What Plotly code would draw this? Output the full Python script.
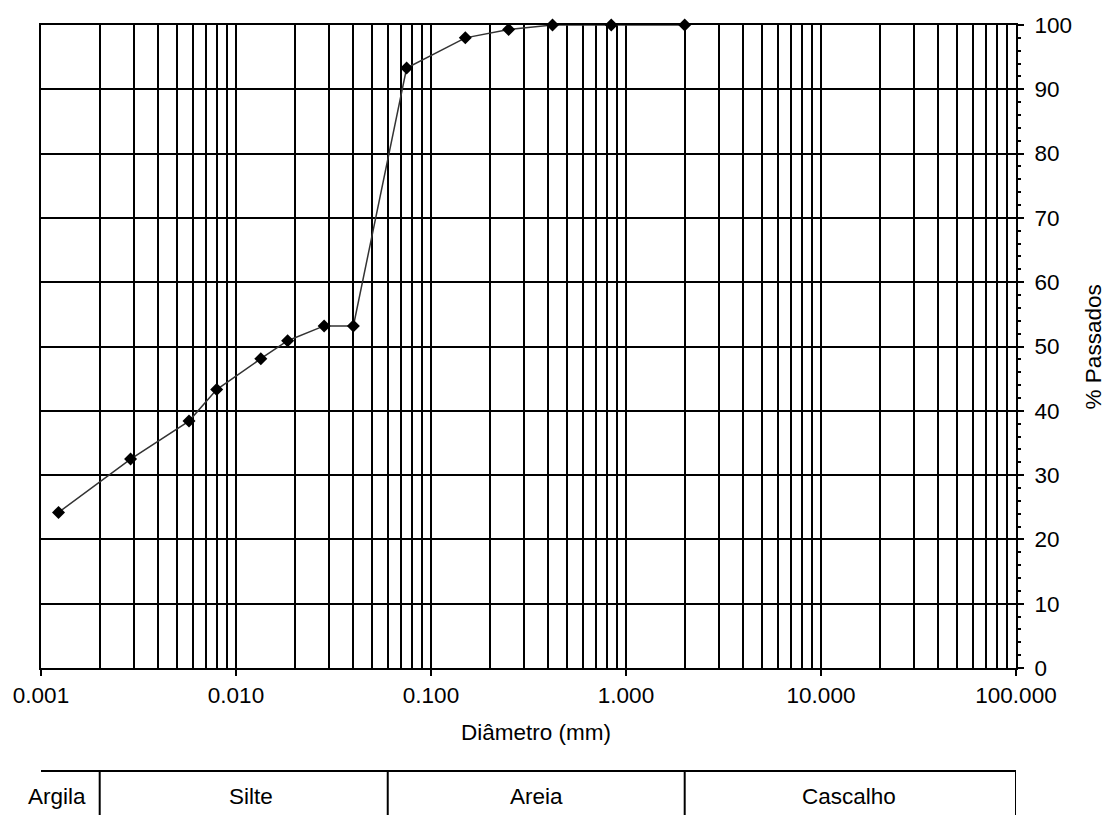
import plotly.graph_objects as go

# Data
diametro_mm = [0.00123, 0.00288, 0.00574, 0.00796, 0.0134, 0.0184, 0.0283, 0.0400,
               0.075, 0.15, 0.25, 0.42, 0.84, 2.0]
passados_pct = [24.2, 32.5, 38.4, 43.3, 48.1, 50.9, 53.2, 53.2,
                93.3, 98.0, 99.3, 100.0, 100.0, 100.0]

x_tickvals = [0.001, 0.01, 0.1, 1, 10, 100]
x_ticktext = ["0.001", "0.010", "0.100", "1.000", "10.000", "100.000"]
x_minor_vals = [m * d for d in [0.001, 0.01, 0.1, 1, 10] for m in range(2, 10)]

class_names = ["Argila", "Silte", "Areia", "Cascalho"]
class_bounds = [0.002, 0.06, 2.0, 100.0]
class_label_pos = [0.0169, 0.2154, 0.5082, 0.8292]

FONT = "Liberation Sans, Arial, sans-serif"
fs = 22.5
LW = 2

fig = go.Figure()
fig.add_trace(go.Scatter(
    x=diametro_mm, y=passados_pct, mode="lines+markers",
    line=dict(color="#333333", width=1.5),
    marker=dict(symbol="diamond", size=10, color="black"),
    showlegend=False, cliponaxis=False,
))

fig.update_layout(
    width=1108, height=815,
    margin=dict(l=41, r=92, t=25, b=147),
    paper_bgcolor="white", plot_bgcolor="white",
    font=dict(family=FONT, size=fs, color="black"),
    showlegend=False,
)

fig.update_xaxes(
    type="log", range=[-3, 2],
    tickvals=x_tickvals, ticktext=x_ticktext,
    ticks="outside", ticklen=6, tickwidth=LW, tickcolor="black",
    showgrid=True, gridcolor="black", gridwidth=LW,
    minor=dict(tickvals=x_minor_vals, showgrid=True, gridcolor="black",
               gridwidth=LW, ticks=""),
    showline=True, linecolor="black", linewidth=LW, mirror=True,
    zeroline=False, tickfont=dict(size=fs),
)
fig.update_yaxes(
    side="right", range=[0, 100], dtick=10,
    ticks="outside", ticklen=6, tickwidth=LW, tickcolor="black",
    showgrid=True, gridcolor="black", gridwidth=LW,
    minor=dict(dtick=2, ticks="outside", ticklen=3, tickwidth=1.5,
               tickcolor="black", showgrid=False),
    showline=True, linecolor="black", linewidth=LW, mirror=True,
    zeroline=False, tickfont=dict(size=fs), ticklabelstandoff=6,
)

# Axis titles
fig.add_annotation(text="Diâmetro (mm)", xref="paper", yref="paper",
                   x=0.5077, y=-0.1010, showarrow=False,
                   xanchor="center", yanchor="middle", font=dict(size=fs))
fig.add_annotation(text="% Passados", xref="paper", yref="paper",
                   x=1.0799, y=0.5, showarrow=False, textangle=-90,
                   xanchor="center", yanchor="middle", font=dict(size=fs))

# Classification table below the chart
y_top, y_bot = -0.1602, -0.24
fig.add_shape(type="line", xref="x", yref="paper", x0=0.001, x1=100,
              y0=y_top, y1=y_top, line=dict(color="black", width=LW))
for b in class_bounds:
    fig.add_shape(type="line", xref="x", yref="paper", x0=b, x1=b,
                  y0=y_top, y1=y_bot, line=dict(color="black", width=LW))
for name, px in zip(class_names, class_label_pos):
    fig.add_annotation(text=name, xref="paper", yref="paper", x=px, y=-0.2006,
                       showarrow=False, xanchor="center", yanchor="middle",
                       font=dict(size=fs))

fig.write_html("out.html")
